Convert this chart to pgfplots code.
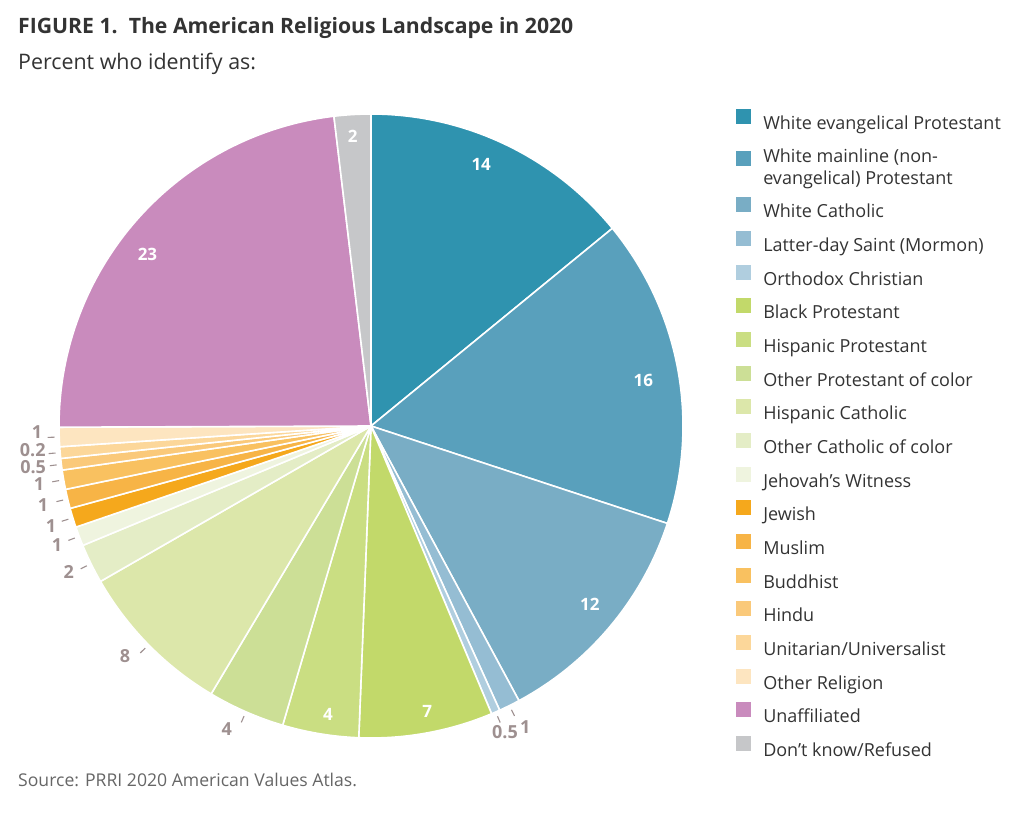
\documentclass[border=0pt]{standalone}
\usepackage{fontspec}
\setmainfont{Open Sans}
\usepackage{pgfplots}
\pgfplotsset{compat=1.18}
\definecolor{cA}{HTML}{2F93AF}
\definecolor{cB}{HTML}{59A0BC}
\definecolor{cC}{HTML}{79ADC5}
\definecolor{cD}{HTML}{95BDD3}
\definecolor{cE}{HTML}{B0CEDF}
\definecolor{cF}{HTML}{C2D96A}
\definecolor{cG}{HTML}{CADE82}
\definecolor{cH}{HTML}{CCDF96}
\definecolor{cI}{HTML}{DCE7AA}
\definecolor{cJ}{HTML}{E4EDC6}
\definecolor{cK}{HTML}{EFF4DF}
\definecolor{cL}{HTML}{F5A81C}
\definecolor{cM}{HTML}{F7B446}
\definecolor{cN}{HTML}{F9C160}
\definecolor{cO}{HTML}{FAC97A}
\definecolor{cP}{HTML}{FCD79A}
\definecolor{cQ}{HTML}{FDE5C0}
\definecolor{cR}{HTML}{C98BBD}
\definecolor{cS}{HTML}{C6C7C9}
\definecolor{labgray}{HTML}{9E9090}
\definecolor{txt}{HTML}{333333}
\definecolor{srcgray}{HTML}{666666}

\tikzset{
  inlab/.style={text=white, font=\bfseries\fontsize{17}{20}\selectfont, inner sep=0pt},
  outlab/.style={text=labgray, font=\bfseries\fontsize{18}{20}\selectfont, inner sep=0pt},
  ticklab/.style={draw=labgray, line width=1.1pt},
}
\pgfplotsset{squarelegend/.style={legend image code/.code={\fill[##1,draw=none] (0pt,-1.5pt) rectangle (15pt,13.5pt);}}}

% #1 share (percent), #2 colour, #3 label, #4 label inside (1) or outside (0),
% #5 legend text, #6 label radius, #7 label angle offset (degrees)
\def\pietotal{100.15}
\pgfmathsetmacro\piescale{360/\pietotal}
\gdef\piecum{0}
\newcommand\pieslice[7]{%
  \pgfmathsetmacro\pA{90-\piescale*(\piecum+#1)}%
  \pgfmathsetmacro\pB{90-\piescale*\piecum}%
  \pgfmathsetmacro\pM{(\pA+\pB)/2}%
  \pgfmathsetmacro\pL{\pM+#7}%
  \pgfmathtruncatemacro\pN{(\pB-\pA)+3}%
  \pgfmathsetmacro\pC{\piecum+#1}\global\let\piecum\pC
  \edef\pdo{\noexpand\addplot[fill=#2, draw=white, line width=1.6pt, line join=round, domain=\pA:\pB, samples=\pN, variable=\noexpand\t] ({cos(\noexpand\t)},{sin(\noexpand\t)}) -- (axis cs:0,0) -- cycle;}%
  \pdo
  \addlegendentry{\strut #5\strut}%
  \pgfmathsetmacro\lx{#6*cos(\pL)}\pgfmathsetmacro\ly{#6*sin(\pL)}%
  \ifnum#4=1
    \edef\pdo{\noexpand\node[inlab] at (axis cs:\lx,\ly) {#3};}\pdo
  \else
    \pgfmathsetmacro\tax{1.015*cos(\pM)}\pgfmathsetmacro\tay{1.015*sin(\pM)}%
    \pgfmathsetmacro\tbx{1.037*cos(\pM)}\pgfmathsetmacro\tby{1.037*sin(\pM)}%
    \edef\pdo{\noexpand\draw[ticklab] (axis cs:\tax,\tay) -- (axis cs:\tbx,\tby); \noexpand\node[outlab] at (axis cs:\lx,\ly) {#3};}\pdo
  \fi
}

\begin{document}
\begin{tikzpicture}
\useasboundingbox (0,0) rectangle (1024pt,817pt);
\node[anchor=base west, font=\bfseries\fontsize{21.2}{24}\selectfont, text=txt, inner sep=0pt] at (18pt,783pt) {FIGURE 1.\ \ The American Religious Landscape in 2020};
\node[anchor=base west, font=\fontsize{21.4}{24}\selectfont, text=txt, inner sep=0pt] at (18pt,747pt) {Percent who identify as:};
\node[anchor=base west, font=\fontsize{17.6}{20}\selectfont, text=srcgray, inner sep=0pt] at (18pt,31pt) {Source: PRRI 2020 American Values Atlas.};
\begin{axis}[
  at={(371pt,391pt)}, anchor=center,
  x=312pt, y=312pt,
  xmin=-1.25, xmax=1.25, ymin=-1.25, ymax=1.25,
  hide axis, clip=false,
  squarelegend,
  legend cell align=left,
  legend style={draw=none, fill=none, at={(0.968,0.907)}, anchor=north west,
    inner sep=0pt, row sep=11.7pt, column sep=12pt,
    font=\fontsize{18}{22}\selectfont, text=txt,
    nodes={inner sep=0pt, align=left}},
]
\pieslice{14.1}{cA}{14}{1}{White evangelical Protestant}{0.91}{2.5}
\pieslice{16.0}{cB}{16}{1}{\rule{0pt}{19.9pt}White mainline (non-\\evangelical) Protestant}{0.885}{-1.1}
\pieslice{12.1}{cC}{12}{1}{White Catholic}{0.904}{0.85}
\pieslice{1.1}{cD}{1}{0}{Latter-day Saint (Mormon)}{1.085}{0.8}
\pieslice{0.45}{cE}{0.5}{0}{Orthodox Christian}{1.071}{0.1}
\pieslice{6.95}{cF}{7}{1}{Black Protestant}{0.933}{0.9}
\pieslice{3.95}{cG}{4}{1}{Hispanic Protestant}{0.936}{0.85}
\pieslice{4.0}{cH}{4}{0}{Other Protestant of color}{1.076}{-1.8}
\pieslice{8.15}{cI}{8}{0}{Hispanic Catholic}{1.080}{-1.4}
\pieslice{2.05}{cJ}{2}{0}{Other Catholic of color}{1.076}{-0.35}
\pieslice{1.0}{cK}{1}{0}{Jehovah’s Witness}{1.077}{0.1}
\pieslice{1.0}{cL}{1}{0}{Jewish}{1.075}{0.3}
\pieslice{1.0}{cM}{1}{0}{Muslim}{1.081}{0}
\pieslice{1.0}{cN}{1}{0}{Buddhist}{1.080}{0}
\pieslice{0.6}{cO}{0.5}{0}{Hindu}{1.091}{-0.05}
\pieslice{0.6}{cP}{0.2}{0}{Unitarian/Universalist}{1.087}{-0.8}
\pieslice{1.0}{cQ}{1}{0}{Other Religion}{1.071}{-0.9}
\pieslice{23.2}{cR}{23}{1}{Unaffiliated}{0.904}{3.9}
\pieslice{1.9}{cS}{2}{1}{Don’t know/Refused}{0.93}{0.2}
\end{axis}
\end{tikzpicture}
\end{document}
